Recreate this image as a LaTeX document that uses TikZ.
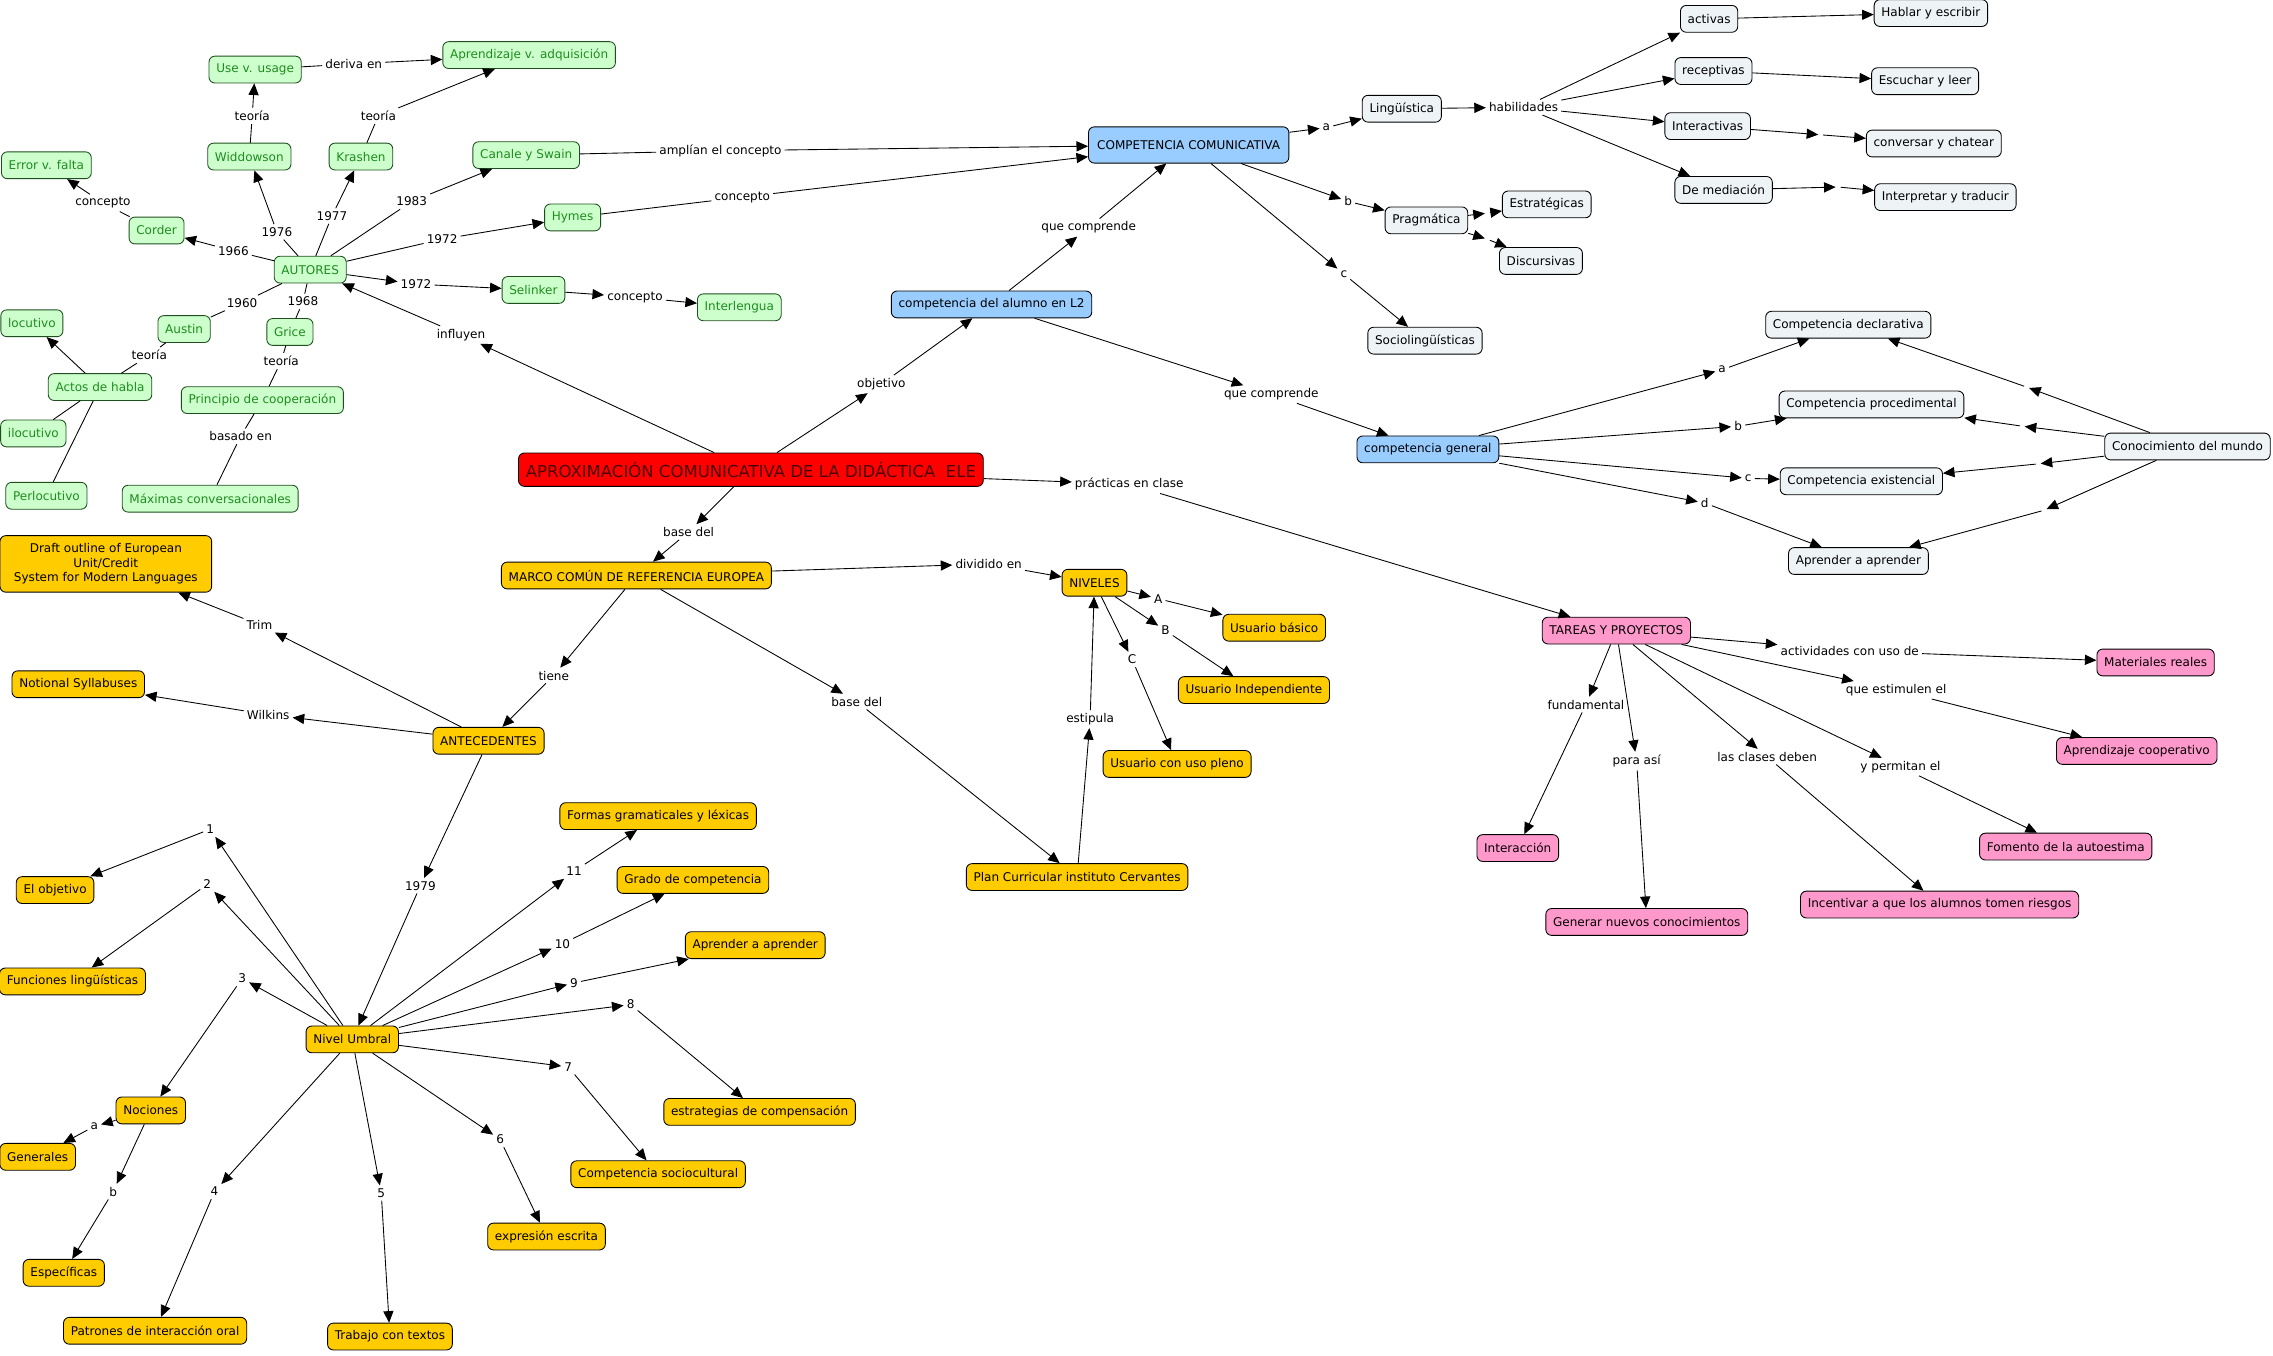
\documentclass[tikz,border=0pt]{standalone}
\usepackage{fontspec}
\setmainfont{DejaVu Sans}
\usetikzlibrary{arrows.meta}
\definecolor{autorgreen}{HTML}{CCFFCC}
\definecolor{autortext}{HTML}{1E8C1E}
\definecolor{autorborder}{HTML}{1F4F1F}
\definecolor{compblue}{HTML}{99CCFF}
\definecolor{skillgrey}{HTML}{EEF3F6}
\definecolor{cefryellow}{HTML}{FFCC00}
\definecolor{tareapink}{HTML}{FF99CC}
\definecolor{aproxred}{HTML}{FF0000}
\definecolor{aproxtext}{HTML}{4A0000}

\tikzset{
  concept/.style={draw=black, rounded corners=4pt, line width=0.6pt,
    minimum height=18.5pt, inner xsep=5pt, inner ysep=2pt},
  greenbox/.style={concept, draw=autorborder, fill=autorgreen, text=autortext},
  bluebox/.style={concept, fill=compblue},
  greybox/.style={concept, fill=skillgrey},
  yellowbox/.style={concept, fill=cefryellow},
  pinkbox/.style={concept, fill=tareapink},
  lbl/.style={inner sep=2pt},
  gap/.style={inner sep=0pt, minimum size=3pt},
  lnk/.style={line width=0.6pt, -{Triangle[length=8pt,width=7pt]}},
  bare/.style={line width=0.6pt},
}

\begin{document}
\begin{tikzpicture}[x=1pt,y=-1pt, every node/.style={font=\fontsize{8.3}{10}\selectfont}]
\useasboundingbox (0,0) rectangle (1568,935);

% autores
\foreach \n/\x/\y/\t in {usage/176/48/Use v. usage, adquis/365/38/Aprendizaje v. adquisición,
    widdowson/172/108/Widdowson, krashen/249/108/Krashen, canale/363/107/Canale y Swain,
    hymes/395/150/Hymes, error/32/114/Error v. falta, corder/108/159/Corder,
    autores/214/186/AUTORES, selinker/368/200/Selinker, interlengua/510/212/Interlengua,
    locutivo/22/223/locutivo, austin/127/227/Austin, grice/200/229/Grice,
    actos/69/267/Actos de habla, principio/181/276/Principio de cooperación,
    ilocutivo/23/299/ilocutivo, perlocutivo/32/342/Perlocutivo,
    maximas/145/344/Máximas conversacionales}
  \node[greenbox] (\n) at (\x,\y) {\t};

% competencias
\node[bluebox, minimum height=25pt, inner xsep=6pt] (cc) at (820,100) {COMPETENCIA COMUNICATIVA};
\node[bluebox] (alumno) at (684,210) {competencia del alumno en L2};
\node[bluebox] (general) at (985,310) {competencia general};
\foreach \n/\x/\y/\t in {linguistica/967/75/Lingüística, pragmatica/984/152/Pragmática,
    socio/983/235/Sociolingüísticas, estrategicas/1067/141/Estratégicas,
    discursivas/1063/180/Discursivas, activas/1179/13/activas, hablar/1332/9/Hablar y escribir,
    receptivas/1182/49/receptivas, escuchar/1328/56/Escuchar y leer,
    interactivas/1178/87/Interactivas, conversar/1334/99/conversar y chatear,
    mediacion/1189/131/De mediación, interpretar/1342/136/Interpretar y traducir,
    declarativa/1275/224/Competencia declarativa, procedimental/1291/279/Competencia procedimental,
    mundo/1509/308/Conocimiento del mundo, existencial/1284/332/Competencia existencial,
    aprendergris/1282/387/Aprender a aprender}
  \node[greybox] (\n) at (\x,\y) {\t};

% centro
\node[concept, fill=aproxred, text=aproxtext, minimum height=23pt,
  font=\fontsize{11.4}{13}\selectfont] (aprox) at (518,324)
  {APROXIMACIÓN COMUNICATIVA DE LA DIDÁCTICA\ \ ELE};

% marco comun
\node[yellowbox, align=center, minimum width=146pt, minimum height=39pt] (draft) at (73,389)
  {Draft outline of European\\Unit/Credit\\System for Modern Languages};
\foreach \n/\x/\y/\t in {marco/439/397/MARCO COMÚN DE REFERENCIA EUROPEA, niveles/755/402/NIVELES,
    basico/879/433/Usuario básico, notional/54/472/Notional Syllabuses,
    independiente/865/476/Usuario Independiente, antecedentes/337/511/ANTECEDENTES,
    pleno/812/527/Usuario con uso pleno, formas/454/563/Formas gramaticales y léxicas,
    grado/478/607/Grado de competencia, plan/743/605/Plan Curricular instituto Cervantes,
    objetivo/38/614/El objetivo, aprenderam/521/652/Aprender a aprender,
    funciones/50/677/Funciones lingüísticas, umbral/243/717/Nivel Umbral,
    nociones/104/766/Nociones, estrategias/524/767/estrategias de compensación,
    generales/26/798/Generales, socioc/454/810/Competencia sociocultural,
    expresion/377/853/expresión escrita, especificas/44/878/Específicas,
    patrones/107/918/Patrones de interacción oral, trabajo/269/922/Trabajo con textos}
  \node[yellowbox] (\n) at (\x,\y) {\t};

% tareas
\foreach \n/\x/\y/\t in {tareas/1115/435/TAREAS Y PROYECTOS, materiales/1487/457/Materiales reales,
    cooperativo/1474/518/Aprendizaje cooperativo, interaccion/1047/585/Interacción,
    autoestima/1425/584/Fomento de la autoestima,
    incentivar/1338/624/Incentivar a que los alumnos tomen riesgos,
    generar/1136/636/Generar nuevos conocimientos}
  \node[pinkbox] (\n) at (\x,\y) {\t};

% frases de enlace
\foreach \n/\x/\y/\t in {lderiva/244/44/deriva en, lteoW/174/80/teoría, lteoK/261/80/teoría,
    lconcC/71/140/concepto, l1976/191/160/1976, l1977/229/149/1977, l1983/284/139/1983,
    l1966/161/173/1966, l1972h/305/165/1972, l1972s/287/196/1972, lconcS/438/205/concepto,
    l1960/167/209/1960, l1968/209/208/1968, lteoA/103/245/teoría, lteoG/194/249/teoría,
    lbasado/166/301/basado en, linfluyen/318/231/influyen,
    lamplian/497/104/amplían el concepto, lconcH/512/136/concepto,
    lobjetivo/608/265/objetivo, lqc1/751/157/que comprende, lqc2/877/272/que comprende,
    la/915/88/a, lb/930/139/b, lc/927/189/c, habilidades/1051/74/habilidades,
    ga/1188/255/a, gb/1199/294/b, gc/1206/330/c, gd/1176/347/d,
    lpracticas/779/334/prácticas en clase, lbase1/475/367/base del,
    ldividido/682/389/dividido en, lA/799/413/A, lB/804/435/B, lC/781/455/C,
    lestipula/752/496/estipula, lbase2/591/484/base del, ltiene/382/466/tiene,
    ltrim/179/431/Trim, lwilkins/185/493/Wilkins, l1979/290/611/1979,
    n1/145/572/1, n2/143/610/2, n3/167/675/3, n4/148/822/4, n5/263/823/5, n6/345/786/6,
    n7/392/736/7, n8/435/693/8, n9/396/678/9, n10/388/651/10, n11/396/601/11,
    lna/65/777/a, lnb/78/822/b,
    lactividades/1276/449/actividades con uso de, lestimulen/1308/476/que estimulen el,
    lfundamental/1094/486/fundamental, lparasi/1129/525/para así,
    lclases/1219/522/las clases deben, lpermitan/1311/529/y permitan el}
  \node[lbl] (\n) at (\x,\y) {\t};

% enlaces sin texto
\foreach \n/\x/\y in {hinter/1256/93, hmedia/1268/129, hestr/1026/147, hdisc/1026/165,
    hdecl/1398/267, hproc/1395/294, hexis/1406/320, hapr/1410/352}
  \node[gap] (\n) at (\x,\y) {};

% conectores
\foreach \a/\b/\s in {usage/lderiva/bare, lderiva/adquis/lnk, widdowson/lteoW/bare, lteoW/usage/lnk,
    krashen/lteoK/bare, lteoK/adquis/lnk, corder/lconcC/bare, lconcC/error/lnk,
    autores/l1976/bare, l1976/widdowson/lnk, autores/l1977/bare, l1977/krashen/lnk,
    autores/l1983/bare, l1983/canale/lnk, autores/l1966/bare, l1966/corder/lnk,
    autores/l1972h/bare, l1972h/hymes/lnk, autores/l1972s/lnk, l1972s/selinker/lnk,
    selinker/lconcS/lnk, lconcS/interlengua/lnk, autores/l1960/bare, l1960/austin/bare,
    autores/l1968/bare, l1968/grice/bare, austin/lteoA/bare, lteoA/actos/bare,
    grice/lteoG/bare, lteoG/principio/bare, principio/lbasado/bare, lbasado/maximas/bare,
    actos/locutivo/lnk, actos/ilocutivo/bare, actos/perlocutivo/bare,
    aprox/linfluyen/lnk, linfluyen/autores/lnk, canale/lamplian/bare, lamplian/cc/lnk,
    hymes/lconcH/bare, lconcH/cc/lnk}
  \draw[\s] (\a) -- (\b);

\foreach \a/\b in {aprox/lobjetivo, lobjetivo/alumno, alumno/lqc1, lqc1/cc, alumno/lqc2, lqc2/general,
    cc/la, la/linguistica, cc/lb, lb/pragmatica, cc/lc, lc/socio,
    linguistica/habilidades, habilidades/activas, habilidades/receptivas,
    habilidades/interactivas, habilidades/mediacion, activas/hablar, receptivas/escuchar,
    interactivas/hinter, hinter/conversar, mediacion/hmedia, hmedia/interpretar,
    pragmatica/hestr, hestr/estrategicas, pragmatica/hdisc, hdisc/discursivas,
    general/ga, ga/declarativa, general/gb, gb/procedimental,
    general/gc, gc/existencial, general/gd, gd/aprendergris,
    mundo/hdecl, hdecl/declarativa, mundo/hproc, hproc/procedimental,
    mundo/hexis, hexis/existencial, mundo/hapr, hapr/aprendergris,
    aprox/lbase1, lbase1/marco, aprox/lpracticas, lpracticas/tareas,
    marco/ldividido, ldividido/niveles, niveles/lA, lA/basico, niveles/lB, lB/independiente,
    niveles/lC, lC/pleno, plan/lestipula, lestipula/niveles, marco/lbase2, lbase2/plan,
    marco/ltiene, ltiene/antecedentes, antecedentes/ltrim, ltrim/draft,
    antecedentes/lwilkins, lwilkins/notional, antecedentes/l1979, l1979/umbral,
    nociones/lna, lna/generales, nociones/lnb, lnb/especificas,
    tareas/lactividades, lactividades/materiales, tareas/lestimulen, lestimulen/cooperativo,
    tareas/lfundamental, lfundamental/interaccion, tareas/lparasi, lparasi/generar,
    tareas/lclases, lclases/incentivar, tareas/lpermitan, lpermitan/autoestima}
  \draw[lnk] (\a) -- (\b);

% nivel umbral
\foreach \k/\t in {1/objetivo, 2/funciones, 3/nociones, 4/patrones, 5/trabajo, 6/expresion,
    7/socioc, 8/estrategias, 9/aprenderam, 10/grado, 11/formas} {
  \draw[lnk] (umbral) -- (n\k);
  \draw[lnk] (n\k) -- (\t);
}
\end{tikzpicture}
\end{document}
